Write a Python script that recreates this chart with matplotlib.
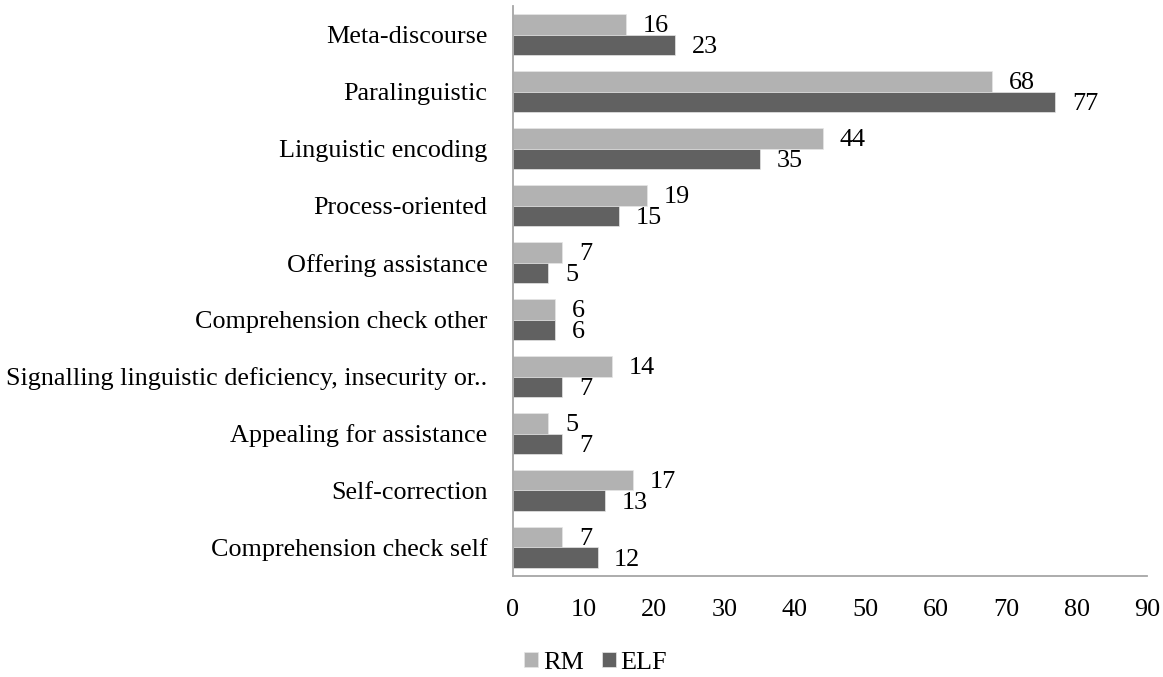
import matplotlib.pyplot as plt
import numpy as np

# strategy categories, listed top to bottom
categories = ['Meta-discourse', 'Paralinguistic', 'Linguistic encoding',
              'Process-oriented', 'Offering assistance',
              'Comprehension check other',
              'Signalling linguistic deficiency, insecurity or..',
              'Appealing for assistance', 'Self-correction',
              'Comprehension check self']
rm = [16, 68, 44, 19, 7, 6, 14, 5, 17, 7]
elf = [23, 77, 35, 15, 5, 6, 7, 7, 13, 12]
xticks = [0, 10, 20, 30, 40, 50, 60, 70, 80, 90]

plt.rcParams['font.family'] = ['Liberation Serif', 'DejaVu Serif']
fs = 18.8

fig = plt.figure(figsize=(11.63, 6.77), dpi=100)
ax = fig.add_axes([0.4411, 0.1492, 0.5451, 0.8419])

n = len(categories)
y = np.arange(n)[::-1]  # first category at the top
h = 0.36

bars_rm = ax.barh(y + h / 2, rm, height=h, color='#b2b2b2', edgecolor='#e6e6e6', linewidth=0.5, label='RM')
bars_elf = ax.barh(y - h / 2, elf, height=h, color='#616161', edgecolor='#e6e6e6', linewidth=0.5, label='ELF')

# value labels just past the bar ends
for bars, vals in [(bars_rm, rm), (bars_elf, elf)]:
    for rect, v in zip(bars, vals):
        ax.annotate(str(v), (v, rect.get_y() + rect.get_height() / 2),
                    xytext=(12, -1.5), textcoords='offset points',
                    ha='left', va='center', fontsize=fs, color='black')

ax.set_xlim(0, 90)
ax.set_ylim(-0.5, n - 0.5)
ax.set_xticks(xticks)
ax.set_yticks(y)
ax.set_yticklabels(categories)
ax.tick_params(axis='both', length=0, labelsize=fs)
ax.tick_params(axis='y', pad=18.5)
ax.tick_params(axis='x', pad=16.5)

for s in ['top', 'right']:
    ax.spines[s].set_visible(False)
for s in ['left', 'bottom']:
    ax.spines[s].set_color('#a6a6a6')
    ax.spines[s].set_linewidth(1.3)

fig.legend(handles=[bars_rm, bars_elf], labels=['RM', 'ELF'], loc='center',
           bbox_to_anchor=(0.512, 0.021), ncol=2, frameon=False, fontsize=fs,
           handlelength=0.54, handleheight=0.54, handletextpad=0.19, columnspacing=0.69)

fig.savefig('out.png', dpi=100)
